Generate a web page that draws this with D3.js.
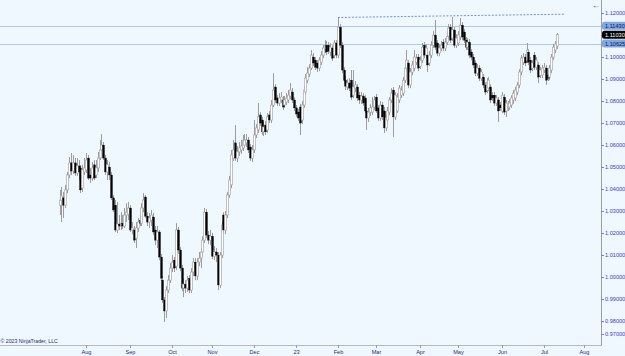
<!DOCTYPE html>
<html><head><meta charset="utf-8">
<script src="https://cdn.jsdelivr.net/npm/d3@7"></script>
<style>
html,body{margin:0;padding:0;background:#f0f8ff;overflow:hidden}
svg{display:block}
text{font-family:"Liberation Sans",Arial,sans-serif}
</style></head><body>
<svg id="chart" width="625" height="356"></svg>
<script>
// ---------- DATA ----------
const startDate = "2022-07-12"; // first bar, consecutive weekdays after it
const opens = [
1.0328,1.0351,1.0361,1.0328,1.0397,1.0465,1.0520,1.0483,1.0520,1.0474,
1.0506,1.0497,1.0406,1.0479,1.0488,1.0542,1.0465,1.0451,1.0511,1.0465,
1.0497,1.0542,1.0579,1.0601,1.0542,1.0479,1.0501,1.0465,1.0361,1.0328,
1.0215,1.0242,1.0233,1.0246,1.0233,1.0283,1.0287,1.0315,1.0215,1.0215,
1.0178,1.0224,1.0260,1.0246,1.0315,1.0365,1.0278,1.0251,1.0260,1.0274,
1.0215,1.0169,1.0206,1.0092,0.9987,0.9897,0.9847,0.9942,0.9987,1.0042,
1.0078,1.0051,1.0215,1.0124,1.0042,0.9951,0.9969,0.9951,0.9996,0.9942,
1.0024,1.0069,1.0006,1.0069,1.0087,1.0115,1.0169,1.0296,1.0192,1.0169,
1.0187,1.0096,1.0115,1.0101,0.9965,1.0101,1.0283,1.0215,1.0283,1.0374,
1.0420,1.0542,1.0611,1.0542,1.0570,1.0579,1.0588,1.0601,1.0611,1.0624,
1.0592,1.0542,1.0579,1.0647,1.0670,1.0738,1.0715,1.0661,1.0692,1.0670,
1.0738,1.0715,1.0783,1.0865,1.0815,1.0792,1.0806,1.0806,1.0783,1.0797,
1.0806,1.0824,1.0842,1.0806,1.0770,1.0751,1.0774,1.0715,1.0783,1.0842,
1.0896,1.0924,1.0951,1.1001,1.0987,1.0974,1.0951,1.0978,1.1010,1.1033,
1.1055,1.1055,1.1024,1.1042,1.1010,1.1065,1.1010,1.1137,1.1055,1.0942,
1.0896,1.0865,1.0883,1.0896,1.0828,1.0860,1.0865,1.0828,1.0806,1.0824,
1.0815,1.0756,1.0724,1.0751,1.0751,1.0774,1.0819,1.0770,1.0724,1.0783,
1.0756,1.0679,1.0715,1.0751,1.0806,1.0851,1.0729,1.0756,1.0806,1.0828,
1.0837,1.0896,1.0951,1.0974,1.0874,1.0933,1.0951,1.0978,1.1001,1.0960,
1.0987,1.1055,1.1010,1.1010,1.0974,1.1010,1.1055,1.1101,1.1065,1.1019,
1.1042,1.1069,1.1042,1.1069,1.1096,1.1137,1.1087,1.1124,1.1055,1.1065,
1.1092,1.1146,1.1115,1.1078,1.1046,1.1069,1.1024,1.1001,1.0974,1.0928,
1.0951,1.0905,1.0910,1.0874,1.0851,1.0860,1.0865,1.0828,1.0828,1.0792,
1.0806,1.0783,1.0756,1.0819,1.0756,1.0770,1.0774,1.0783,1.0806,1.0815,
1.0842,1.0874,1.0933,1.0978,1.1001,1.0987,1.1024,1.0987,1.0951,1.1010,
1.0955,1.0965,1.0919,1.0919,1.0942,1.0951,1.0919,1.0910,1.0942,1.1001,
1.1033,1.1051];
const highs = [
1.0397,1.0411,1.0388,1.0420,1.0479,1.0547,1.0565,1.0556,1.0542,1.0542,
1.0533,1.0511,1.0511,1.0542,1.0565,1.0556,1.0497,1.0524,1.0533,1.0533,
1.0570,1.0624,1.0651,1.0615,1.0556,1.0533,1.0524,1.0479,1.0374,1.0351,
1.0342,1.0283,1.0296,1.0283,1.0315,1.0337,1.0342,1.0328,1.0251,1.0233,
1.0251,1.0269,1.0283,1.0337,1.0383,1.0374,1.0296,1.0292,1.0306,1.0292,
1.0233,1.0233,1.0215,1.0106,1.0006,0.9910,0.9960,1.0010,1.0065,1.0101,
1.0092,1.0246,1.0228,1.0137,1.0056,0.9996,0.9987,1.0006,1.0010,1.0042,
1.0087,1.0087,1.0087,1.0115,1.0133,1.0187,1.0315,1.0310,1.0210,1.0215,
1.0201,1.0142,1.0133,1.0115,1.0115,1.0251,1.0296,1.0301,1.0388,1.0461,
1.0579,1.0624,1.0692,1.0597,1.0615,1.0624,1.0647,1.0651,1.0651,1.0638,
1.0606,1.0601,1.0715,1.0697,1.0792,1.0751,1.0729,1.0706,1.0711,1.0747,
1.0756,1.0806,1.0928,1.0878,1.0828,1.0837,1.0842,1.0824,1.0824,1.0837,
1.0851,1.0883,1.0860,1.0819,1.0783,1.0765,1.0788,1.0801,1.0869,1.0924,
1.0955,1.0969,1.1033,1.1019,1.1001,1.0987,1.1001,1.1028,1.1055,1.1078,
1.1074,1.1069,1.1065,1.1055,1.1078,1.1078,1.1178,1.1151,1.1069,1.0955,
1.0915,1.0901,1.0905,1.0942,1.0942,1.0892,1.0878,1.0842,1.0842,1.0837,
1.0828,1.0774,1.0770,1.0788,1.0819,1.0824,1.0833,1.0783,1.0801,1.0797,
1.0774,1.0738,1.0774,1.0819,1.0860,1.0865,1.0842,1.0837,1.0874,1.0869,
1.0910,1.0969,1.1033,1.0987,1.0951,1.0983,1.1033,1.1015,1.1015,1.1005,
1.1065,1.1069,1.1060,1.1024,1.1028,1.1074,1.1119,1.1169,1.1078,1.1060,
1.1074,1.1083,1.1087,1.1115,1.1151,1.1151,1.1183,1.1137,1.1105,1.1119,
1.1178,1.1160,1.1128,1.1092,1.1087,1.1083,1.1037,1.1015,1.0987,1.0969,
1.0965,1.0946,1.0924,1.0887,1.0905,1.0910,1.0878,1.0842,1.0842,1.0828,
1.0819,1.0797,1.0842,1.0833,1.0806,1.0801,1.0810,1.0828,1.0851,1.0865,
1.0887,1.0946,1.1010,1.1019,1.1015,1.1065,1.1037,1.1001,1.0987,1.1024,
1.1001,1.0978,1.0955,1.0965,1.0974,1.0965,1.0933,1.0965,1.1015,1.1060,
1.1074,1.1110];
const lows = [
1.0283,1.0251,1.0269,1.0315,1.0383,1.0451,1.0465,1.0470,1.0461,1.0461,
1.0442,1.0383,1.0388,1.0465,1.0474,1.0442,1.0429,1.0438,1.0442,1.0451,
1.0479,1.0533,1.0570,1.0533,1.0465,1.0442,1.0442,1.0351,1.0296,1.0206,
1.0201,1.0215,1.0215,1.0219,1.0224,1.0251,1.0260,1.0206,1.0196,1.0156,
1.0133,1.0206,1.0233,1.0233,1.0296,1.0269,1.0233,1.0224,1.0233,1.0192,
1.0146,1.0133,1.0078,0.9983,0.9883,0.9797,0.9815,0.9928,0.9974,1.0024,
1.0024,1.0033,1.0106,1.0028,0.9937,0.9910,0.9928,0.9933,0.9928,0.9928,
1.0006,0.9987,0.9987,1.0051,1.0042,1.0096,1.0156,1.0178,1.0151,1.0146,
1.0083,1.0078,1.0069,0.9942,0.9951,1.0087,1.0201,1.0196,1.0269,1.0361,
1.0406,1.0529,1.0529,1.0524,1.0551,1.0561,1.0574,1.0588,1.0592,1.0565,
1.0529,1.0524,1.0565,1.0633,1.0656,1.0688,1.0647,1.0642,1.0647,1.0656,
1.0701,1.0701,1.0774,1.0792,1.0779,1.0779,1.0792,1.0761,1.0770,1.0783,
1.0792,1.0810,1.0792,1.0756,1.0729,1.0711,1.0647,1.0697,1.0770,1.0828,
1.0883,1.0910,1.0942,1.0960,1.0942,1.0933,1.0937,1.0965,1.0996,1.1019,
1.1010,1.1015,1.1005,1.0983,1.0996,1.0996,1.0996,1.1042,1.0928,1.0883,
1.0851,1.0851,1.0846,1.0806,1.0815,1.0842,1.0801,1.0788,1.0788,1.0779,
1.0747,1.0670,1.0706,1.0733,1.0738,1.0761,1.0747,1.0711,1.0711,1.0715,
1.0656,1.0665,1.0701,1.0738,1.0792,1.0638,1.0715,1.0747,1.0792,1.0815,
1.0824,1.0883,1.0937,1.0860,1.0860,1.0919,1.0937,1.0965,1.0937,1.0946,
1.0974,1.0996,1.0996,1.0933,1.0960,1.0996,1.1042,1.1033,1.1005,1.1005,
1.1028,1.1028,1.1028,1.1055,1.1083,1.1065,1.1074,1.1042,1.1042,1.1051,
1.1078,1.1078,1.1065,1.1033,1.1033,1.0996,1.0987,1.0951,1.0915,1.0915,
1.0892,1.0892,1.0860,1.0828,1.0837,1.0846,1.0792,1.0801,1.0779,1.0779,
1.0706,1.0756,1.0747,1.0738,1.0729,1.0756,1.0761,1.0770,1.0788,1.0801,
1.0828,1.0860,1.0919,1.0965,1.0960,1.0974,1.0965,1.0928,1.0937,1.0942,
1.0942,1.0883,1.0905,1.0905,1.0928,1.0874,1.0892,1.0896,1.0928,1.0987,
1.1019,1.1037];
const closes = [
1.0351,1.0370,1.0328,1.0397,1.0465,1.0520,1.0483,1.0520,1.0474,1.0506,
1.0479,1.0397,1.0488,1.0497,1.0533,1.0451,1.0451,1.0497,1.0451,1.0497,
1.0542,1.0579,1.0601,1.0542,1.0479,1.0511,1.0465,1.0361,1.0306,1.0215,
1.0242,1.0233,1.0246,1.0233,1.0283,1.0296,1.0315,1.0215,1.0224,1.0169,
1.0224,1.0251,1.0246,1.0315,1.0351,1.0278,1.0251,1.0269,1.0283,1.0206,
1.0169,1.0206,1.0092,0.9996,0.9897,0.9847,0.9942,0.9987,1.0042,1.0069,
1.0042,1.0215,1.0124,1.0042,0.9951,0.9969,0.9951,0.9987,0.9942,1.0024,
1.0069,1.0006,1.0069,1.0087,1.0115,1.0169,1.0296,1.0192,1.0169,1.0187,
1.0096,1.0115,1.0101,0.9965,1.0101,1.0237,1.0215,1.0283,1.0374,1.0442,
1.0556,1.0579,1.0542,1.0570,1.0588,1.0597,1.0624,1.0624,1.0624,1.0579,
1.0542,1.0579,1.0647,1.0679,1.0729,1.0701,1.0661,1.0683,1.0661,1.0729,
1.0715,1.0783,1.0851,1.0806,1.0792,1.0815,1.0819,1.0774,1.0806,1.0815,
1.0828,1.0851,1.0806,1.0770,1.0742,1.0724,1.0701,1.0783,1.0851,1.0905,
1.0928,1.0951,1.1010,1.0974,1.0955,1.0951,1.0987,1.1010,1.1042,1.1055,
1.1024,1.1028,1.1046,1.0996,1.1065,1.1010,1.1137,1.1055,1.0942,1.0896,
1.0869,1.0883,1.0860,1.0819,1.0865,1.0874,1.0815,1.0806,1.0824,1.0792,
1.0756,1.0724,1.0751,1.0770,1.0774,1.0806,1.0756,1.0724,1.0783,1.0729,
1.0679,1.0724,1.0756,1.0806,1.0837,1.0729,1.0828,1.0819,1.0860,1.0851,
1.0896,1.0951,1.0987,1.0874,1.0933,1.0965,1.1001,1.0996,1.0951,1.0987,
1.1046,1.1010,1.1042,1.0965,1.1010,1.1055,1.1101,1.1046,1.1019,1.1042,
1.1055,1.1042,1.1069,1.1096,1.1133,1.1078,1.1124,1.1055,1.1087,1.1101,
1.1146,1.1092,1.1078,1.1046,1.1069,1.1010,1.1001,1.0965,1.0928,1.0951,
1.0905,1.0933,1.0874,1.0842,1.0887,1.0896,1.0806,1.0815,1.0792,1.0815,
1.0756,1.0770,1.0828,1.0751,1.0792,1.0788,1.0792,1.0815,1.0837,1.0851,
1.0874,1.0933,1.0996,1.1001,1.0974,1.1033,1.0978,1.0942,1.0974,1.0955,
1.0987,1.0910,1.0942,1.0951,1.0955,1.0896,1.0905,1.0951,1.1001,1.1046,
1.1060,1.1103];
const priceTicks = [0.97,0.98,0.99,1.00,1.01,1.02,1.03,1.04,1.05,1.06,1.07,1.08,1.09,1.10,1.11,1.12];
const monthTickDates = ["2022-08-01","2022-09-01","2022-10-03","2022-11-01","2022-12-01","2023-01-02",
  "2023-02-01","2023-03-01","2023-04-03","2023-05-01","2023-06-01","2023-07-03","2023-08-01"];
const monthLabels = ["Aug","Sep","Oct","Nov","Dec","23","Feb","Mar","Apr","May","Jun","Jul","Aug"];
const levelPrices = [1.11430, 1.10625];
const lastPrice = 1.11030;
const trendBars = [146, 265];
const trendPrices = [1.1181, 1.1196];
const copyright = "© 2023 NinjaTrader, LLC";

// ---------- LAYOUT ----------
const W = 625, H = 356, axisX = 601, axisY = 345;
const svg = d3.select("#chart");
svg.append("rect").attr("width", W).attr("height", H).attr("fill", "#f0f8ff");

const parse = d3.utcParse("%Y-%m-%d");
const days = d3.utcDay.range(parse(startDate), parse("2023-08-15"))
  .filter(d => d.getUTCDay() !== 0 && d.getUTCDay() !== 6);
const barOf = s => days.findIndex(d => +d === +parse(s));

const x = d3.scaleLinear().domain([-31.21, 284.03]).range([0, axisX]);
const y = d3.scaleLinear().domain([0.97, 1.12]).range([343.3, 13.3]);

const bars = closes.map((c, i) => ({i, o: opens[i], h: highs[i], l: lows[i], c}));

svg.append("defs").append("clipPath").attr("id", "plot")
  .append("rect").attr("x", 0).attr("y", 0).attr("width", axisX).attr("height", axisY);

const plot = svg.append("g").attr("clip-path", "url(#plot)");

// horizontal level lines
plot.selectAll("line.lvl").data(levelPrices).join("line")
  .attr("x1", 0).attr("x2", axisX)
  .attr("y1", d => Math.round(y(d)) + 0.5).attr("y2", d => Math.round(y(d)) + 0.5)
  .attr("stroke", "#b3c8e6").attr("stroke-width", 1);

// trend line
plot.append("line")
  .attr("x1", x(trendBars[0])).attr("y1", y(trendPrices[0]))
  .attr("x2", x(trendBars[1])).attr("y2", y(trendPrices[1]))
  .attr("stroke", "#7090e6").attr("stroke-width", 1).attr("stroke-dasharray", "2,1.5");

// wicks
plot.selectAll("line.wick").data(bars).join("line")
  .attr("x1", d => Math.round(x(d.i)) + 0.5).attr("x2", d => Math.round(x(d.i)) + 0.5)
  .attr("y1", d => y(d.h)).attr("y2", d => y(d.l))
  .attr("stroke", "#9c9c9c").attr("stroke-width", 1);

// bodies
plot.selectAll("rect.body").data(bars).join("rect")
  .attr("x", d => Math.round(x(d.i)) - 0.5)
  .attr("width", 2)
  .attr("y", d => y(Math.max(d.o, d.c)))
  .attr("height", d => Math.max(1, Math.abs(y(d.o) - y(d.c))))
  .attr("fill", d => d.c >= d.o ? "#ffffff" : "#000000")
  .attr("stroke", d => d.c >= d.o ? "#a8a8a8" : "#000000")
  .attr("stroke-width", d => d.c >= d.o ? 0.7 : 0.3);

// axes lines
svg.append("line").attr("x1", axisX + 0.5).attr("x2", axisX + 0.5).attr("y1", 0).attr("y2", axisY + 0.5)
  .attr("stroke", "#9c9c9c");
svg.append("line").attr("x1", 0).attr("x2", axisX + 0.5).attr("y1", axisY + 0.5).attr("y2", axisY + 0.5)
  .attr("stroke", "#b8b8b8");

// price axis ticks & labels
const yt = svg.append("g");
priceTicks.forEach(p => {
  const yy = Math.min(y(p), 334);
  yt.append("line").attr("x1", axisX).attr("x2", axisX + 3)
    .attr("y1", Math.round(yy) + 0.5).attr("y2", Math.round(yy) + 0.5).attr("stroke", "#8080c0");
  yt.append("text").attr("x", axisX + 4).attr("y", yy + 2)
    .attr("font-size", 5.6).attr("fill", "#3a3ad8").text(d3.format(".5f")(p));
});

// price markers
function marker(p, fill, textFill) {
  const yy = y(p);
  svg.append("rect").attr("x", axisX + 1).attr("y", yy - 4).attr("width", 26).attr("height", 8)
    .attr("rx", 2.5).attr("fill", fill);
  svg.append("text").attr("x", axisX + 4).attr("y", yy + 2)
    .attr("font-size", 5.6).attr("fill", textFill).text(d3.format(".5f")(p));
}
levelPrices.forEach(p => marker(p, "#7ea7e3", "#0c1a50"));
marker(lastPrice, "#000000", "#ffffff");

// time axis
const xt = svg.append("g");
monthTickDates.forEach((s, k) => {
  const xx = Math.round(x(barOf(s))) + 0.5;
  xt.append("line").attr("x1", xx).attr("x2", xx).attr("y1", axisY).attr("y2", axisY + 3)
    .attr("stroke", "#9c9c9c");
  xt.append("text").attr("x", xx).attr("y", 353.5).attr("text-anchor", "middle")
    .attr("font-size", 5.6).attr("fill", "#26268e").text(monthLabels[k]);
});

// copyright
svg.append("text").attr("x", 0.5).attr("y", 342.5).attr("font-size", 5.2)
  .attr("fill", "#1e1e86").text(copyright);

// arrow
svg.append("text").attr("x", 592).attr("y", 8).attr("font-size", 8)
  .attr("fill", "#444").text("←");
</script>
</body></html>
